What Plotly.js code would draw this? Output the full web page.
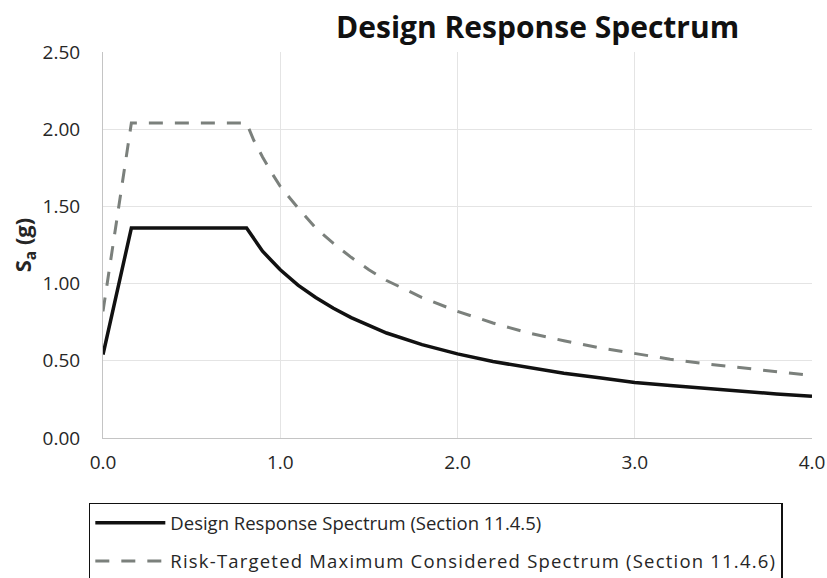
<!DOCTYPE html>
<html>
<head>
<meta charset="utf-8">
<script src="https://cdn.plot.ly/plotly-3.0.1.min.js"></script>
<style>html,body{margin:0;padding:0;background:#fff;}#chart{width:827px;height:578px;}</style>
</head>
<body>
<div id="chart"></div>
<script>
// Period T (s)
var periodT = [0, 0.16, 0.81, 0.85, 0.90, 0.95, 1.0, 1.1, 1.2, 1.3, 1.4, 1.5, 1.6, 1.8, 2.0, 2.2, 2.4, 2.6, 2.8, 3.0, 3.2, 3.4, 3.6, 3.8, 4.0];
// Design Response Spectrum Sa (g)
var designSa = [0.54, 1.36, 1.36, 1.29, 1.21, 1.15, 1.09, 0.99, 0.91, 0.84, 0.78, 0.73, 0.68, 0.605, 0.545, 0.495, 0.455, 0.42, 0.39, 0.36, 0.34, 0.32, 0.30, 0.285, 0.27];
// Risk-Targeted MCE Spectrum Sa (g)
var mceSa = [0.82, 2.04, 2.04, 1.93, 1.82, 1.72, 1.63, 1.49, 1.36, 1.26, 1.17, 1.09, 1.02, 0.91, 0.82, 0.745, 0.68, 0.63, 0.585, 0.545, 0.51, 0.48, 0.455, 0.43, 0.405];
var seriesNames = ["Design Response Spectrum (Section 11.4.5)", "Risk-Targeted Maximum Considered Spectrum (Section 11.4.6)"];
var yTickVals = [0, 0.5, 1.0, 1.5, 2.0, 2.5];
var xTickVals = [0, 1, 2, 3, 4];

var FONT = "'Open Sans', 'Liberation Sans', sans-serif";

var traces = [
  {x: periodT, y: designSa, type: 'scatter', mode: 'lines', name: seriesNames[0], legendgroup: 'a',
   line: {color: '#111111', width: 3.5}},
  {x: periodT, y: mceSa, type: 'scatter', mode: 'lines',
   name: '<span style="letter-spacing:1.2px">' + seriesNames[1] + '</span>', legendgroup: 'b',
   line: {color: '#7b807c', width: 3, dash: '14px,12px'}}
];

var layout = {
  width: 827, height: 578,
  margin: {l: 103, r: 15, t: 52, b: 140, autoexpand: false},
  paper_bgcolor: '#ffffff', plot_bgcolor: '#ffffff',
  font: {family: FONT, color: '#262626'},
  title: {text: '<b>Design Response Spectrum</b>', font: {family: FONT, size: 30, color: '#111111'},
          xref: 'paper', x: 0.613, xanchor: 'center', yref: 'container', y: 0.952, yanchor: 'middle'},
  xaxis: {range: [0, 4], tickvals: xTickVals, tickformat: '.1f', showgrid: true, gridcolor: '#e4e4e4', gridwidth: 1,
          showline: true, linecolor: '#c4c4c4', linewidth: 1, zeroline: false, ticks: '',
          tickfont: {size: 19, color: '#262626'}, ticklabelstandoff: 7, fixedrange: true},
  yaxis: {range: [0, 2.5], tickvals: yTickVals, tickformat: '.2f', showgrid: true, gridcolor: '#e4e4e4', gridwidth: 1,
          showline: true, linecolor: '#c4c4c4', linewidth: 1, zeroline: false, ticks: '',
          tickfont: {size: 19, color: '#262626'}, ticklabelstandoff: 18,
          title: {text: '<b>S<sub>a</sub> (g)</b>', font: {size: 22, color: '#262626'}, standoff: 4}},
  showlegend: true,
  legend: {x: -0.02, xanchor: 'left', y: -0.168, yanchor: 'top', orientation: 'v',
           bordercolor: '#111111', borderwidth: 1.5, bgcolor: 'rgba(255,255,255,0)',
           font: {size: 18.5, color: '#262626'}, itemwidth: 70, tracegroupgap: 11, traceorder: 'grouped'}
};

Plotly.newPlot('chart', traces, layout, {displayModeBar: false, staticPlot: true});
</script>
</body>
</html>
